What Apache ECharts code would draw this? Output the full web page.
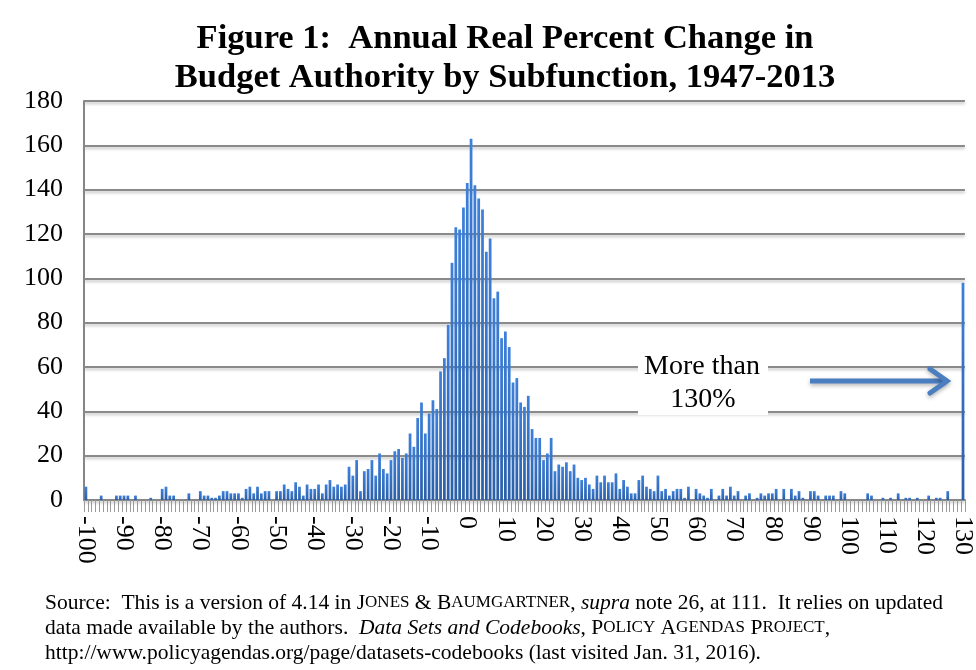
<!DOCTYPE html>
<html>
<head>
<meta charset="utf-8">
<script src="https://cdn.jsdelivr.net/npm/echarts@6/dist/echarts.min.js"></script>
<style>
html,body{margin:0;padding:0;background:#fff;}
#chart{width:976px;height:670px;}
</style>
</head>
<body>
<div id="chart"></div>
<script>
// Bins of annual real percent change, -100 ... 130 (last bin = more than 130%)
var binStart = -100;
var binEnd = 130;
var counts = [
  6,0,0,0,2,0,0,0,2,2, 2,2,0,2,0,0,0,1,0,0,   // -100 .. -81
  5,6,2,2,0,0,0,3,0,0, 4,2,2,1,1,2,4,4,3,3,   // -80 .. -61
  3,1,5,6,3,6,3,4,4,0, 4,4,7,5,4,8,6,2,7,5,   // -60 .. -41
  5,7,3,7,9,6,7,6,7,15, 11,18,4,13,14,18,11,21,14,12, // -40 .. -21
  18,22,23,19,21,30,24,37,44,30, 39,45,41,58,64,79,107,123,122,132, // -20 .. -1
  143,163,142,136,131,112,118,91,94,73, 76,69,53,55,44,42,47,32,28,28, // 0 .. 19
  18,21,28,13,16,15,17,13,16,10, 9,10,7,5,11,8,11,8,8,12, // 20 .. 39
  5,9,6,3,3,9,11,6,5,4, 11,4,5,2,4,5,5,1,6,0, // 40 .. 59
  5,3,2,1,5,0,2,5,2,6, 2,4,0,2,3,0,1,3,2,3, // 60 .. 79
  3,5,0,5,0,5,2,4,1,0, 4,4,2,0,2,2,2,0,4,3, // 80 .. 99
  0,0,0,0,0,3,2,0,0,1, 0,1,0,3,0,1,1,0,1,0, // 100 .. 119
  0,2,0,1,1,0,4,0,0,0, 98                    // 120 .. 130
];
var yTicks = [0,20,40,60,80,100,120,140,160,180];
var titleLines = ['Figure 1:  Annual Real Percent Change in', 'Budget Authority by Subfunction, 1947-2013'];
var noteLines = ['More than', '130%'];

var categories = [];
for (var v = binStart; v <= binEnd; v++) categories.push(String(v));

var serif = '"Liberation Serif","Times New Roman",serif';
var chart = echarts.init(document.getElementById('chart'), null, {renderer:'canvas'});

var option = {
  animation: false,
  backgroundColor: '#fff',
  textStyle: {fontFamily: serif},
  grid: {left: 84, right: 10, top: 101, bottom: 170, containLabel: false},
  xAxis: {
    type: 'category',
    data: categories,
    boundaryGap: true,
    axisLine: {show: true, lineStyle: {color: '#868686', width: 2}},
    axisTick: {show: true, interval: 0, length: 12, lineStyle: {color: '#9a9a9a', width: 1}},
    axisLabel: {
      interval: 9, rotate: -90, margin: 16,
      fontFamily: serif, fontSize: 26, color: '#000'
    },
    splitLine: {show: false}
  },
  yAxis: {
    type: 'value',
    min: yTicks[0], max: yTicks[yTicks.length-1], interval: 20,
    axisLine: {show: true, lineStyle: {color: '#868686', width: 2}},
    axisTick: {show: false},
    axisLabel: {fontFamily: serif, fontSize: 26, color: '#000', margin: 21},
    splitLine: {show: true, lineStyle: {color: '#8a8a8a', width: 2, shadowColor: 'rgba(0,0,0,0.25)', shadowBlur: 3, shadowOffsetY: 2}}
  },
  series: [{
    type: 'bar',
    data: counts,
    barWidth: '72%',
    itemStyle: {
      color: {type: 'linear', x: 0, y: 0, x2: 0, y2: 1,
        colorStops: [{offset: 0, color: '#3d80da'}, {offset: 1, color: '#2b5fa8'}]}
    }
  }],
  graphic: [
    {type: 'text', x: 505, y: 39, style: {text: titleLines[0], font: 'bold 34.5px ' + serif, fill: '#000', textAlign: 'center', textVerticalAlign: 'middle'}},
    {type: 'text', x: 505, y: 78, style: {text: titleLines[1], font: 'bold 34.5px ' + serif, fill: '#000', textAlign: 'center', textVerticalAlign: 'middle'}},
    {type: 'rect', shape: {x: 638, y: 351, width: 130, height: 64}, style: {fill: '#fff'}, z: 10},
    {type: 'text', x: 702, y: 367, z: 11, style: {text: noteLines[0], font: '28px ' + serif, fill: '#000', textAlign: 'center', textVerticalAlign: 'middle'}},
    {type: 'text', x: 703, y: 400, z: 11, style: {text: noteLines[1], font: '28px ' + serif, fill: '#000', textAlign: 'center', textVerticalAlign: 'middle'}},
    {type: 'line', z: 11, shape: {x1: 810, y1: 381, x2: 945, y2: 381},
      style: {stroke: '#4a7ec0', lineWidth: 5, shadowColor: 'rgba(0,0,0,0.3)', shadowBlur: 4, shadowOffsetY: 2}},
    {type: 'polyline', z: 11, shape: {points: [[930, 369], [947, 381], [930, 393]]},
      style: {stroke: '#4a7ec0', lineWidth: 5, fill: null, lineJoin: 'miter', lineCap: 'round', shadowColor: 'rgba(0,0,0,0.3)', shadowBlur: 4, shadowOffsetY: 2}},
    {type: 'text', x: 45, y: 603, style: {
      text: 'Source:  This is a version of 4.14 in J{sc|ONES} & B{sc|AUMGARTNER}, {i|supra} note 26, at 111.  It relies on updated',
      font: '21.5px ' + serif, fill: '#000', textVerticalAlign: 'middle',
      rich: {sc: {fontSize: 17, fontFamily: serif}, i: {fontStyle: 'italic', fontSize: 21.5, fontFamily: serif}}
    }},
    {type: 'text', x: 45, y: 628, style: {
      text: 'data made available by the authors.  {i|Data Sets and Codebooks}, P{sc|OLICY} A{sc|GENDAS} P{sc|ROJECT},',
      font: '21.5px ' + serif, fill: '#000', textVerticalAlign: 'middle',
      rich: {sc: {fontSize: 17, fontFamily: serif}, i: {fontStyle: 'italic', fontSize: 21.5, fontFamily: serif}}
    }},
    {type: 'text', x: 45, y: 653, style: {
      text: 'http://www.policyagendas.org/page/datasets-codebooks (last visited Jan. 31, 2016).',
      font: '21.5px ' + serif, fill: '#000', textVerticalAlign: 'middle'
    }}
  ]
};
chart.setOption(option);
</script>
</body>
</html>
